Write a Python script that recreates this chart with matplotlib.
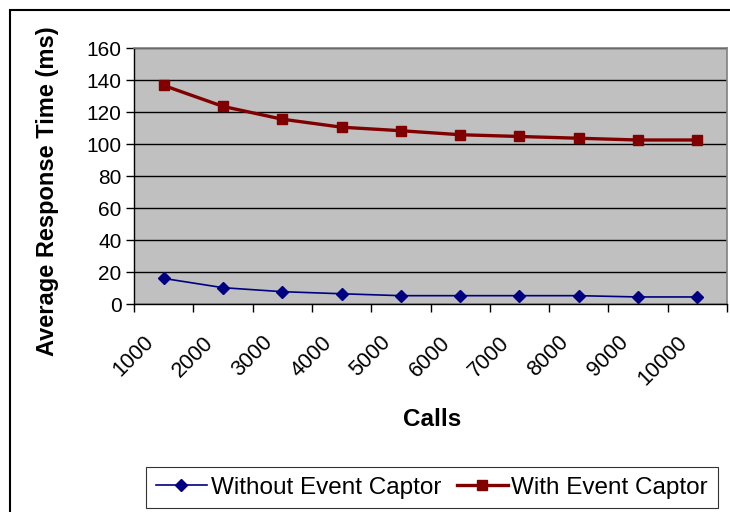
import matplotlib.pyplot as plt
import numpy as np
from matplotlib.patches import Rectangle
from matplotlib.transforms import ScaledTranslation

calls = ["1000", "2000", "3000", "4000", "5000", "6000", "7000", "8000", "9000", "10000"]
without_captor = [16, 10.2, 7.7, 6.4, 5.2, 5.2, 5.2, 5.2, 4.4, 4.4]
with_captor = [136.6, 123.5, 115.5, 110.5, 108.3, 105.8, 104.7, 103.6, 102.5, 102.5]

plt.rcParams['font.family'] = ['Liberation Sans', 'DejaVu Sans']

fig = plt.figure(figsize=(7.3, 5.12), dpi=100)
ax = fig.add_axes([134 / 730, 1 - 304 / 512, 593 / 730, 256 / 512])

x = np.arange(len(calls))
ax.set_facecolor('#C0C0C0')
ax.plot(x, without_captor, color='#000080', lw=1.2, marker='D', ms=6.5,
        label='Without Event Captor', zorder=3)
ax.plot(x, with_captor, color='#800000', lw=2.4, marker='s', ms=7,
        label='With Event Captor', zorder=3)

ax.set_ylim(0, 160)
ax.set_yticks(range(0, 161, 20))
ax.set_xlim(-0.5, len(calls) - 0.5)
ax.set_xticks(np.arange(-0.5, len(calls), 1))
ax.set_xticklabels([])
ax.set_xticks(x, minor=True)
ax.set_xticklabels(calls, minor=True, rotation=45, ha='right', va='center',
                   rotation_mode='anchor', fontsize=15.5)
ax.tick_params(axis='x', which='minor', length=0, pad=25.5)
ax.tick_params(axis='x', which='major', length=6, width=1, color='black')
ax.tick_params(axis='y', length=6, width=1, labelsize=15, pad=3)

# nudge the slanted category labels to the left
shift = ScaledTranslation(-0.13, 0, fig.dpi_scale_trans)
for lbl in ax.get_xticklabels(minor=True):
    lbl.set_transform(lbl.get_transform() + shift)

ax.grid(axis='y', color='black', lw=1)
ax.set_axisbelow(True)
for side in ['top', 'right']:
    ax.spines[side].set_color('#808080')
    ax.spines[side].set_linewidth(1.2)
for side in ['left', 'bottom']:
    ax.spines[side].set_color('black')
    ax.spines[side].set_linewidth(1)

fig.text(48 / 730, 1 - 191 / 512, 'Average Response Time (ms)', fontsize=17,
         fontweight='bold', rotation=90, ha='center', va='center')
fig.text(432 / 730, 1 - 420 / 512, 'Calls', fontsize=17.5, fontweight='bold',
         ha='center', va='center')

leg = fig.legend(loc='center', bbox_to_anchor=(432 / 730, 1 - 487.5 / 512), ncol=2,
                 fontsize=17.5, frameon=True, fancybox=False, edgecolor='black',
                 handlelength=2.1, handletextpad=0.15, columnspacing=0.65,
                 borderpad=0.4)
leg.get_frame().set_linewidth(0.8)

# outer chart border
fig.patches.append(Rectangle((9.5 / 730, -0.01), 1.0, 1 - 9.5 / 512 + 0.01,
                             transform=fig.transFigure, fill=False,
                             edgecolor='black', lw=1.5))

fig.savefig('out.png', dpi=100)
